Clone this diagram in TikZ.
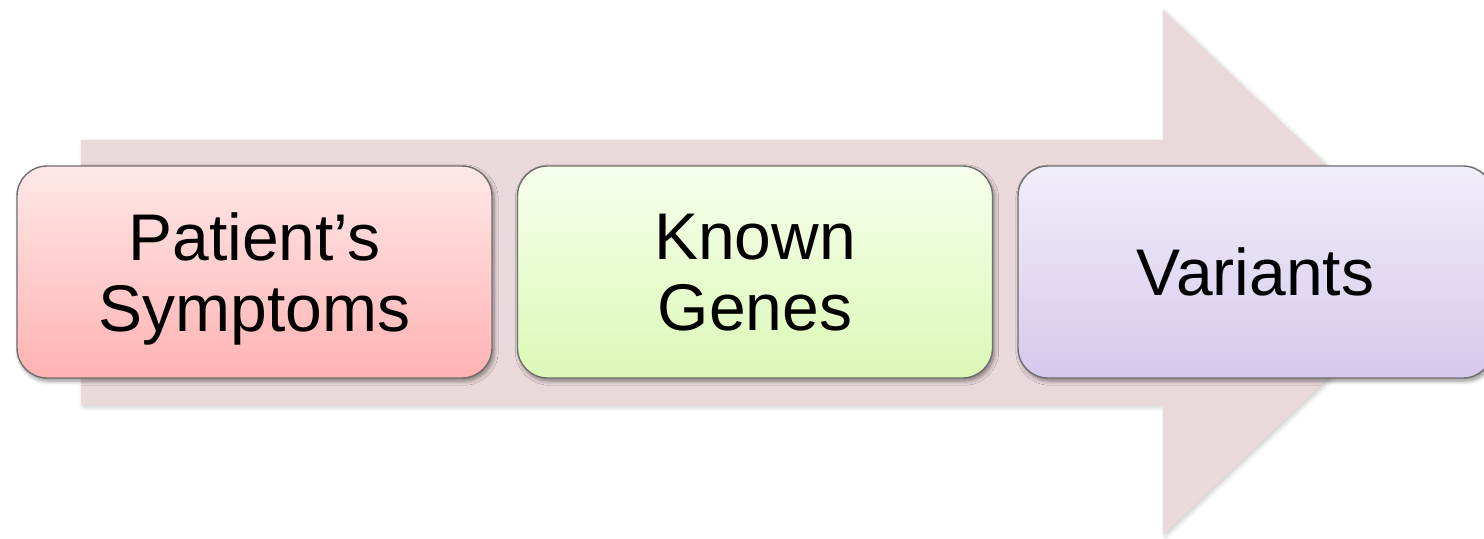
\documentclass[tikz,border=0pt]{standalone}
\usepackage{fontspec}
\setmainfont{Liberation Sans}
\usetikzlibrary{shadows.blur}
\definecolor{arrowfill}{RGB}{234,217,218}
\definecolor{boxborder}{RGB}{110,110,110}
\definecolor{pinktop}{RGB}{255,232,232}
\definecolor{pinkbot}{RGB}{255,178,178}
\definecolor{greentop}{RGB}{246,255,236}
\definecolor{greenbot}{RGB}{220,248,182}
\definecolor{purpletop}{RGB}{241,238,250}
\definecolor{purplebot}{RGB}{214,200,236}
\tikzset{
  stage/.style={draw=boxborder, line width=0.7pt, rounded corners=15pt,
    minimum width=237.5pt, minimum height=106pt, inner sep=0pt,
    align=center, font=\fontsize{33}{35.5}\selectfont, text depth=0pt,
    blur shadow={shadow xshift=1pt, shadow yshift=-1.5pt, shadow blur steps=6, shadow opacity=45}},
  flowarrow/.style={fill=arrowfill,
    blur shadow={shadow xshift=1pt, shadow yshift=-1pt, shadow blur steps=4, shadow opacity=20}}
}
\begin{document}
\begin{tikzpicture}[x=0.5pt,y=-0.5pt]
\useasboundingbox (0,0) rectangle (1484,538);
\clip (0,0) rectangle (1484,538);
\path[flowarrow] (81,140) -- (1163,140) -- (1163,10) -- (1440,272.5) -- (1163,535) -- (1163,405) -- (81,405) -- cycle;
\node[stage, top color=pinktop, bottom color=pinkbot] (symptoms) at (254.5,272) {Patient’s\\Symptoms};
\node[stage, top color=greentop, bottom color=greenbot] (genes) at (755,272) {Known\\Genes};
\node[stage, top color=purpletop, bottom color=purplebot] (variants) at (1255.5,272) {Variants};
\end{tikzpicture}
\end{document}
